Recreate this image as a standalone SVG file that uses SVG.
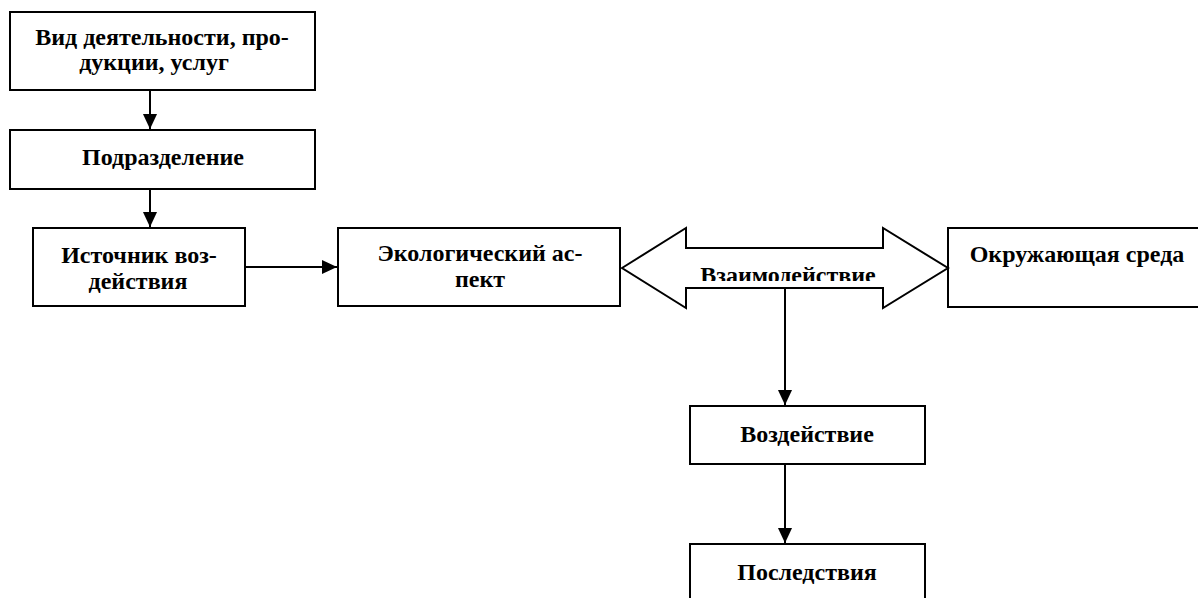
<svg xmlns="http://www.w3.org/2000/svg" width="1198" height="598" viewBox="0 0 1198 598">
<style>
.box{fill:#fff;stroke:#000;stroke-width:2}
.t{font-family:"Liberation Serif","Times New Roman",serif;font-weight:bold;font-size:24px;fill:#000;text-anchor:middle}
.ln{stroke:#000;stroke-width:2;fill:none}
</style>
<defs>
<marker id="ah" markerWidth="15" markerHeight="16" refX="16" refY="7.5" orient="auto" markerUnits="userSpaceOnUse" viewBox="0 0 16 15">
<path d="M0,0 L16,7.5 L0,15 Z" fill="#000"/>
</marker>
<clipPath id="clipT"><rect x="690" y="250" width="190" height="31"/></clipPath>
</defs>
<rect width="1198" height="598" fill="#fff"/>
<g id="n1"><rect class="box" x="10" y="12" width="305" height="78"/>
<text class="t" x="162" y="45">Вид деятельности, про-</text>
<text class="t" x="154" y="70">дукции, услуг</text></g>
<g id="n2"><rect class="box" x="10" y="130" width="305" height="59"/>
<text class="t" x="163" y="165">Подразделение</text></g>
<g id="n3"><rect class="box" x="33" y="228" width="212" height="78"/>
<text class="t" x="139" y="263">Источник воз-</text>
<text class="t" x="138" y="289">действия</text></g>
<g id="n4"><rect class="box" x="338" y="228" width="282" height="78"/>
<text class="t" x="480" y="261">Экологический ас-</text>
<text class="t" x="480" y="287">пект</text></g>
<g id="n5"><rect class="box" x="948" y="228" width="262" height="79"/>
<text class="t" x="1077" y="262">Окружающая среда</text></g>
<g id="n6"><polygon class="box" points="622,268 686,228 686,248 883,248 883,228 948,268 883,308 883,288 686,288 686,308"/>
<text class="t" x="788" y="283" clip-path="url(#clipT)">Взаимодействие</text></g>
<g id="n7"><rect class="box" x="690" y="406" width="235" height="58"/>
<text class="t" x="807" y="442">Воздействие</text></g>
<g id="n8"><rect class="box" x="690" y="544" width="235" height="70"/>
<text class="t" x="807" y="580">Последствия</text></g>
<g id="connectors">
<line class="ln" x1="150" y1="90" x2="150" y2="129" marker-end="url(#ah)"/>
<line class="ln" x1="150" y1="189" x2="150" y2="227" marker-end="url(#ah)"/>
<line class="ln" x1="245" y1="267" x2="337" y2="267" marker-end="url(#ah)"/>
<line class="ln" x1="785" y1="288" x2="785" y2="405" marker-end="url(#ah)"/>
<line class="ln" x1="785" y1="464" x2="785" y2="543" marker-end="url(#ah)"/>
</g>
</svg>
